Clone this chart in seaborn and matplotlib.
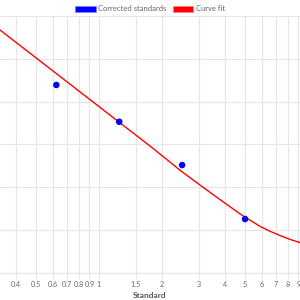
import matplotlib
matplotlib.use("Agg")
import matplotlib.pyplot as plt
from matplotlib.patches import Patch
import seaborn as sns
import pandas as pd

# Data
std_x = [0.625, 1.25, 2.5, 5.0]
std_y = [4.39, 3.53, 2.52, 1.26]

fit_x = [0.336, 0.4425, 0.5828, 0.7677, 1.011, 1.331, 1.754, 2.069, 2.44, 3.04, 3.79, 4.73, 5.89, 6.58, 7.35, 8.2, 9.16]
fit_y = [5.673, 5.222, 4.771, 4.319, 3.868, 3.416, 2.965, 2.685, 2.40, 2.055, 1.716, 1.38, 1.09, 0.975, 0.875, 0.785, 0.71]

tick_vals = [0.4, 0.5, 0.6, 0.7, 0.8, 0.9, 1, 1.5, 2, 3, 4, 5, 6, 7, 8, 9]
tick_labels = ["0.4", "0.5", "0.6", "0.7", "0.8", "0.9", "1", "1.5", "2", "3", "4", "5", "6", "7", "8", "9"]

legend_labels = ["Corrected standards", "Curve fit"]
series_colors = ["#0000ff", "#ff0000"]

sns.set_theme(style="white")
plt.rcParams["font.family"] = ["Lato", "DejaVu Sans"]

fig = plt.figure(figsize=(3, 3), dpi=100)
ax = fig.add_axes([0.0, 0.09, 1.0, 0.8567])

df_fit = pd.DataFrame({"x": fit_x, "y": fit_y})
df_std = pd.DataFrame({"x": std_x, "y": std_y})

sns.lineplot(data=df_fit, x="x", y="y", color=series_colors[1], lw=1.0, ax=ax, zorder=3, sort=True)
sns.scatterplot(data=df_std, x="x", y="y", color=series_colors[0], s=22, edgecolor="none", ax=ax, zorder=4)

ax.set_xscale("log")
ax.set_xlim(0.336, 9.16)
ax.set_ylim(0, 6)
ax.set_xticks(tick_vals)
ax.set_xticklabels(tick_labels)
ax.minorticks_off()
ax.set_yticks([0, 1, 2, 3, 4, 5, 6])
ax.set_yticklabels([])

grid_c = "#e6e6e6"
ax.grid(True, color=grid_c, lw=0.8)
ax.tick_params(axis="x", which="major", length=4, width=0.8, color=grid_c,
               labelsize=5.2, labelcolor="#666666", pad=2, direction="out", bottom=True)
ax.tick_params(axis="y", length=0)
for s in ["top", "right", "left"]:
    ax.spines[s].set_visible(False)
ax.spines["bottom"].set_color(grid_c)
ax.spines["bottom"].set_linewidth(0.8)

ax.set_xlabel("Standard", fontsize=6, color="#555555", fontweight="bold", labelpad=3)
ax.set_ylabel("")

handles = [Patch(facecolor=series_colors[0], edgecolor="#8080ff", lw=0.6),
           Patch(facecolor=series_colors[1], edgecolor="#ff8080", lw=0.6)]
fig.legend(handles, legend_labels, loc="upper center", bbox_to_anchor=(0.5, 1.005), ncol=2,
           frameon=False, fontsize=5.5, labelcolor="#666666", handlelength=2.7, handleheight=0.9,
           handletextpad=0.3, columnspacing=0.8)

fig.savefig("out.png", dpi=100)
